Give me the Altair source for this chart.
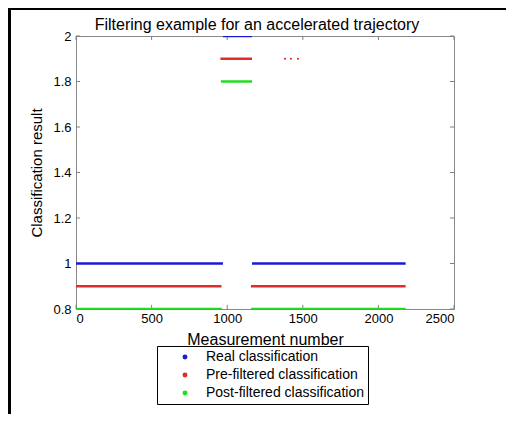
import altair as alt
import pandas as pd

series_names = ["Real classification", "Pre-filtered classification", "Post-filtered classification"]
series_colors = ["#1a1ad6", "#e62a2a", "#20dd20"]

real_start = [0, 972, 1164]
real_end = [972, 1164, 2180]
real_level = [1.0, 2.0, 1.0]

pre_start = [0, 955, 1157]
pre_end = [962, 1164, 2180]
pre_level = [0.9, 1.9, 0.9]

post_start = [0, 958, 1157]
post_end = [965, 1164, 2180]
post_level = [0.8, 1.8, 0.8]

pre_dots_x = [1382, 1421, 1468]
pre_dots_y = [1.9, 1.9, 1.9]

x_ticks = [0, 500, 1000, 1500, 2000, 2500]
y_ticks = [0.8, 1.0, 1.2, 1.4, 1.6, 1.8, 2.0]

rows = []
for name, s, e, lv in [(series_names[0], real_start, real_end, real_level),
                       (series_names[1], pre_start, pre_end, pre_level),
                       (series_names[2], post_start, post_end, post_level)]:
    for a, b, c in zip(s, e, lv):
        rows.append({"series": name, "x0": a, "x1": b, "y": c})
seg = pd.DataFrame(rows)
dots = pd.DataFrame({"series": series_names[1], "x": pre_dots_x, "y": pre_dots_y})
xt = pd.DataFrame({"v": x_ticks})
yt = pd.DataFrame({"v": y_ticks})
one = pd.DataFrame({"k": [0]})

FONT = "Liberation Sans"
xscale = alt.Scale(domain=[0, 2500], nice=False)
yscale = alt.Scale(domain=[0.8, 2.0], nice=False)
color = alt.Color(
    "series:N",
    scale=alt.Scale(domain=series_names, range=series_colors),
    legend=alt.Legend(
        orient="none", legendX=81, legendY=310, title=None,
        symbolType="circle", symbolSize=6, symbolStrokeWidth=2.5,
        labelFontSize=14, labelFont=FONT, labelColor="black",
        strokeColor="black", fillColor="white", padding=4, rowPadding=4,
        symbolOffset=17, labelOffset=14,
    ),
)

lines = alt.Chart(seg).mark_rule(strokeWidth=2.5, clip=True).encode(
    x=alt.X("x0:Q", scale=xscale, title="Measurement number",
            axis=alt.Axis(values=x_ticks, format="d", labelPadding=3, titlePadding=6)),
    x2="x1:Q",
    y=alt.Y("y:Q", scale=yscale, title="Classification result",
            axis=alt.Axis(values=y_ticks, format="~g", labelPadding=5, titlePadding=8)),
    color=color,
)

pts = alt.Chart(dots).mark_circle(size=5, opacity=1, clip=True).encode(
    x=alt.X("x:Q", scale=xscale), y=alt.Y("y:Q", scale=yscale), color=color
)

tick_col = "#808080"
xb = alt.Chart(xt).transform_calculate(a="0.8", b="0.8 + 0.018").mark_rule(color=tick_col, strokeWidth=1).encode(
    x=alt.X("v:Q", scale=xscale), y=alt.Y("a:Q", scale=yscale), y2="b:Q")
xtop = alt.Chart(xt).transform_calculate(a="2.0", b="2.0 - 0.018").mark_rule(color=tick_col, strokeWidth=1).encode(
    x=alt.X("v:Q", scale=xscale), y=alt.Y("a:Q", scale=yscale), y2="b:Q")
yl = alt.Chart(yt).transform_calculate(a="0", b="27").mark_rule(color=tick_col, strokeWidth=1).encode(
    y=alt.Y("v:Q", scale=yscale), x=alt.X("a:Q", scale=xscale), x2="b:Q")
yr = alt.Chart(yt).transform_calculate(a="2500", b="2473").mark_rule(color=tick_col, strokeWidth=1).encode(
    y=alt.Y("v:Q", scale=yscale), x=alt.X("a:Q", scale=xscale), x2="b:Q")

left_border = alt.Chart(one).mark_rule(color="black", strokeWidth=3).encode(
    x=alt.value(-66.5), y=alt.value(-28), y2=alt.value(378))
top_border = alt.Chart(one).mark_rule(color="black", strokeWidth=3).encode(
    x=alt.value(-68), x2=alt.value(430), y=alt.value(-27.5))

chart = alt.layer(xb, xtop, yl, yr, lines, pts, left_border, top_border).properties(
    width=378, height=273,
    title=alt.Title("Filtering example for an accelerated trajectory", fontSize=16, font=FONT,
                    fontWeight="normal", color="black", offset=5, dx=-8, dy=31, frame="group"),
    autosize=alt.AutoSizeParams(type="none"),
    padding={"left": 68, "top": 28, "right": 52, "bottom": 105},
).configure_view(stroke="#888888", strokeWidth=1).configure_axis(
    domain=False, ticks=False, grid=False, labelFont=FONT, labelFontSize=13, labelColor="black",
    titleFont=FONT, titleFontWeight="normal", titleColor="black",
).configure_axisX(titleFontSize=16).configure_axisY(titleFontSize=15)

chart.save("out.html", embed_options={"renderer": "svg", "actions": False})
